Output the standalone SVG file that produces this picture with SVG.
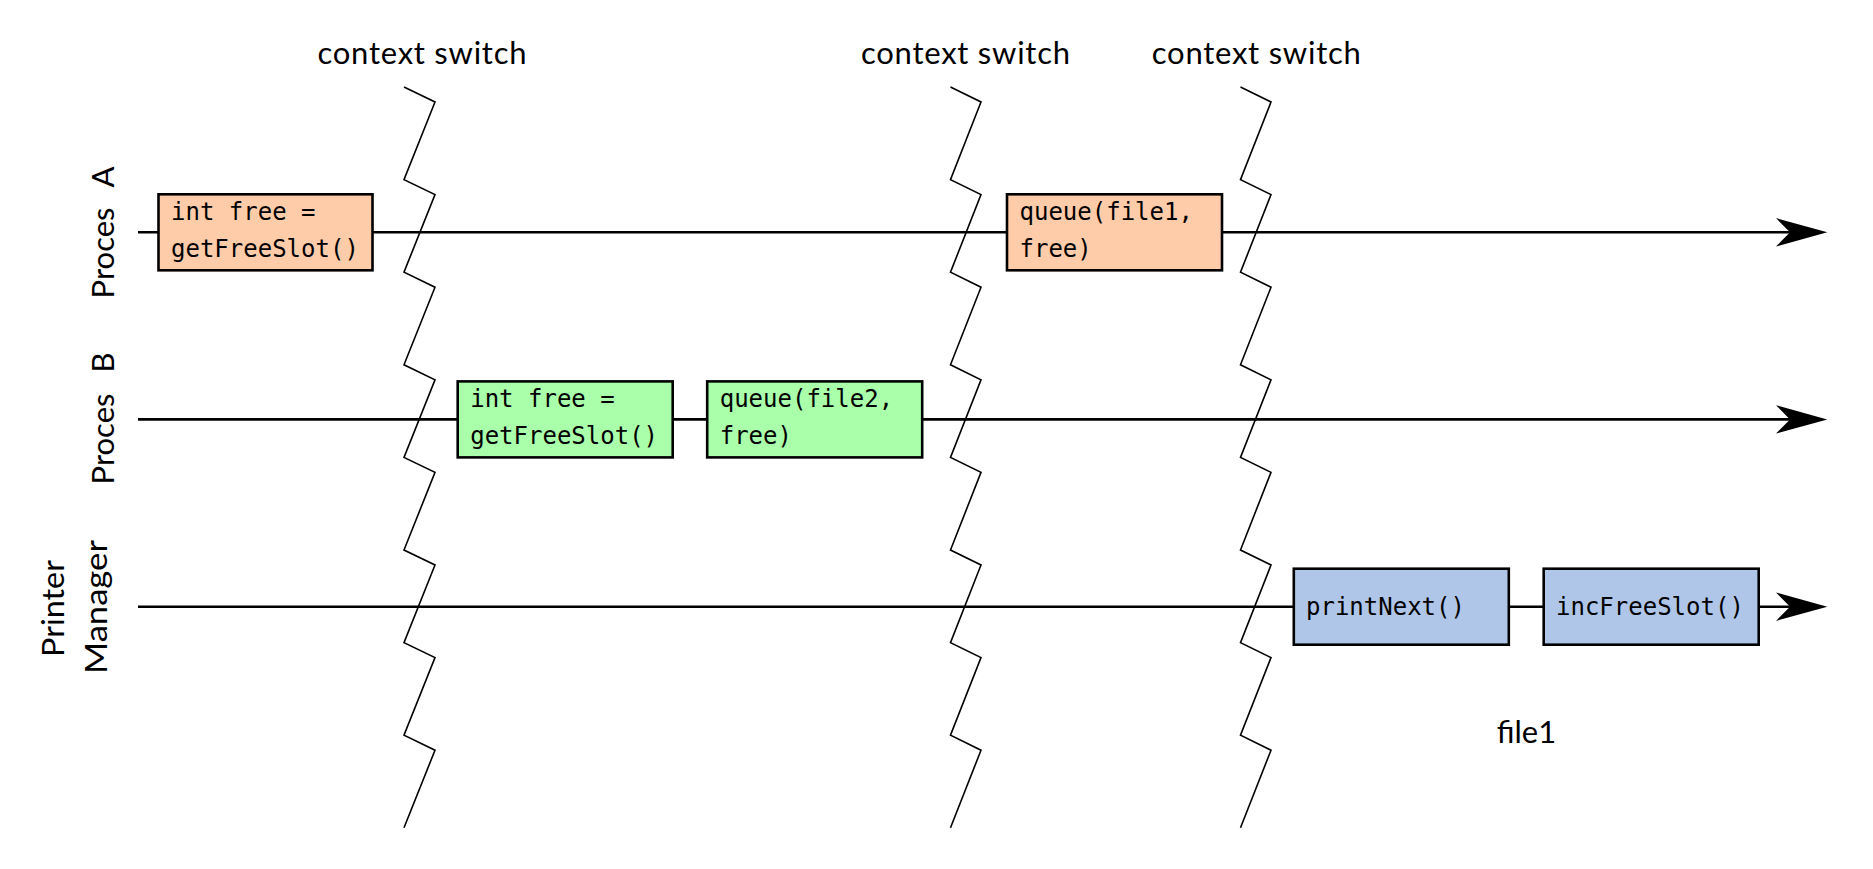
<svg xmlns="http://www.w3.org/2000/svg" width="1873" height="869" viewBox="0 0 1873 869">
<style>
.bg{fill:#ffffff}
.lane{stroke:#000;stroke-width:2.6;fill:none}
.zz{stroke:#000;stroke-width:1.6;fill:none;stroke-linejoin:miter}
.box{stroke:#000;stroke-width:2.6}
.pa{fill:#ffccaa}
.pb{fill:#aaffaa}
.pm{fill:#b0c6e8}
.code{font-family:"DejaVu Sans Mono",monospace;font-size:24px;fill:#000}
.lbl{font-family:Lato,"Open Sans",sans-serif;font-size:31px;fill:#000}
.mid{text-anchor:middle}
</style>
<defs>
<marker id="arr" markerUnits="userSpaceOnUse" markerWidth="60" markerHeight="40" refX="0" refY="0" orient="auto" overflow="visible">
<path d="M35.3,0 L-16,-14.2 L-2,0 L-16,14.2 Z" fill="#000"/>
</marker>
</defs>
<rect class="bg" x="0" y="0" width="1873" height="869"/>

<g id="labels">
<text class="lbl mid" x="422" y="64.3" textLength="209" lengthAdjust="spacing">context switch</text>
<text class="lbl mid" x="965.5" y="64.3" textLength="209" lengthAdjust="spacing">context switch</text>
<text class="lbl mid" x="1256.3" y="64.3" textLength="209" lengthAdjust="spacing">context switch</text>
<text class="lbl mid" x="1526.5" y="743.3" font-size="32">file1</text>
<text class="lbl mid" transform="translate(114,232.5) rotate(-90)" x="0" y="0" word-spacing="13">Proces A</text>
<text class="lbl mid" transform="translate(114,418.5) rotate(-90)" x="0" y="0" word-spacing="13">Proces B</text>
<text class="lbl mid" transform="translate(64.3,608.5) rotate(-90)" x="0" y="0" textLength="97" lengthAdjust="spacingAndGlyphs">Printer</text>
<text class="lbl mid" transform="translate(107.3,607) rotate(-90)" x="0" y="0" textLength="134" lengthAdjust="spacingAndGlyphs">Manager</text>
</g>

<g id="connectors">
<line class="lane" x1="138" y1="232.3" x2="1792" y2="232.3" marker-end="url(#arr)"/>
<line class="lane" x1="138" y1="419.4" x2="1792" y2="419.4" marker-end="url(#arr)"/>
<line class="lane" x1="138" y1="606.7" x2="1792" y2="606.7" marker-end="url(#arr)"/>
</g>

<g id="context-switches">
<path class="zz" d="M404,87 l31,15 l-31,77.6 l31,15 l-31,77.6 l31,15 l-31,77.6 l31,15 l-31,77.6 l31,15 l-31,77.6 l31,15 l-31,77.6 l31,15 l-31,77.6 l31,15 l-31,77.6"/>
<path class="zz" d="M950.5,87 l30.5,15 l-30.5,77.6 l30.5,15 l-30.5,77.6 l30.5,15 l-30.5,77.6 l30.5,15 l-30.5,77.6 l30.5,15 l-30.5,77.6 l30.5,15 l-30.5,77.6 l30.5,15 l-30.5,77.6 l30.5,15 l-30.5,77.6"/>
<path class="zz" d="M1240.5,87 l30.5,15 l-30.5,77.6 l30.5,15 l-30.5,77.6 l30.5,15 l-30.5,77.6 l30.5,15 l-30.5,77.6 l30.5,15 l-30.5,77.6 l30.5,15 l-30.5,77.6 l30.5,15 l-30.5,77.6 l30.5,15 l-30.5,77.6"/>
</g>

<g id="a1">
<rect class="box pa" x="158.5" y="194.3" width="214" height="76"/>
<text class="code" x="171" y="220">int free =</text>
<text class="code" x="171" y="257">getFreeSlot()</text>
</g>
<g id="a2">
<rect class="box pa" x="1007" y="194.3" width="215" height="76"/>
<text class="code" x="1019.5" y="220">queue(file1,</text>
<text class="code" x="1019.5" y="257">free)</text>
</g>
<g id="b1">
<rect class="box pb" x="457.7" y="381.4" width="215" height="76"/>
<text class="code" x="470.2" y="407.2">int free =</text>
<text class="code" x="470.2" y="444.2">getFreeSlot()</text>
</g>
<g id="b2">
<rect class="box pb" x="707.2" y="381.4" width="215" height="76"/>
<text class="code" x="719.7" y="407.2">queue(file2,</text>
<text class="code" x="719.7" y="444.2">free)</text>
</g>
<g id="p1">
<rect class="box pm" x="1293.8" y="568.7" width="215" height="76"/>
<text class="code" x="1306" y="615">printNext()</text>
</g>
<g id="p2">
<rect class="box pm" x="1543.7" y="568.7" width="215" height="76"/>
<text class="code" x="1556" y="615">incFreeSlot()</text>
</g>
</svg>
